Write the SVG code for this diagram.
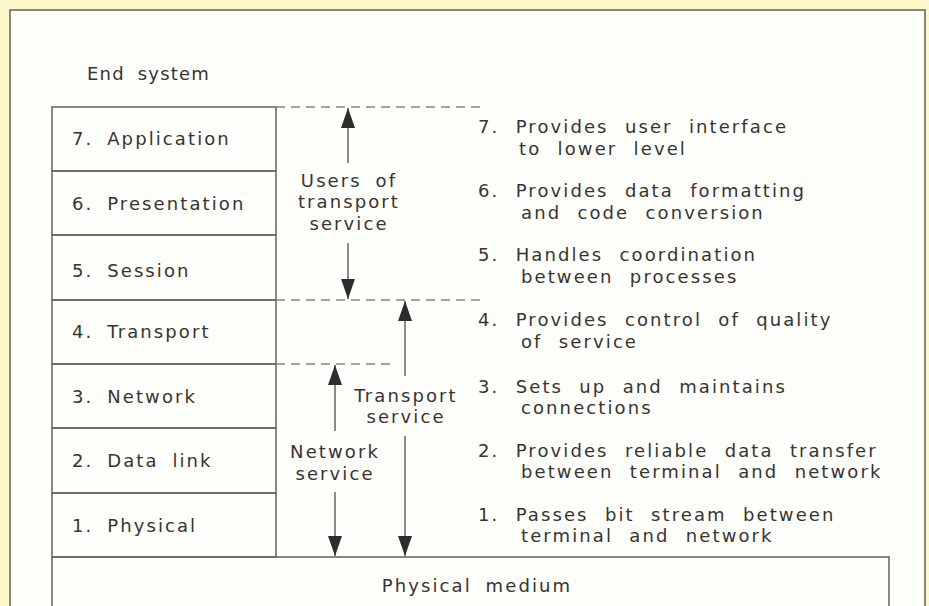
<svg xmlns="http://www.w3.org/2000/svg" width="929" height="606" viewBox="0 0 929 606">
<defs>
<style>
.t{font-family:"DejaVu Sans","Liberation Sans",Arial,sans-serif;font-size:18px;fill:#363432;letter-spacing:2.1px;word-spacing:6px}
.d{word-spacing:8.5px}
.c{text-anchor:middle}
.box{fill:none;stroke:#6e6862;stroke-width:1.6}
.dash{stroke:#8a8480;stroke-width:1.6;stroke-dasharray:9,6;fill:none}
.ln{stroke:#5e5854;stroke-width:1.4;fill:none}
</style>
<marker id="ah" viewBox="0 0 20 14" refX="20" refY="7" markerWidth="20" markerHeight="14" markerUnits="userSpaceOnUse" orient="auto">
<path d="M0,0 L20,7 L0,14 Z" fill="#2e2c2a"/>
</marker>
</defs>
<rect width="929" height="606" fill="#fbf8cc"/>
<rect x="10" y="10" width="915" height="610" fill="#fefefb" stroke="#6e6862" stroke-width="1.6"/>
<text class="t" x="87" y="80" style="letter-spacing:1.2px">End system</text>
<g id="layer7"><rect class="box" x="52" y="107" width="224" height="64"/><text class="t" x="72" y="145">7. Application</text></g>
<g id="layer6"><rect class="box" x="52" y="171" width="224" height="64"/><text class="t" x="72" y="210">6. Presentation</text></g>
<g id="layer5"><rect class="box" x="52" y="235" width="224" height="65"/><text class="t" x="72" y="277">5. Session</text></g>
<g id="layer4"><rect class="box" x="52" y="300" width="224" height="64"/><text class="t" x="72" y="338">4. Transport</text></g>
<g id="layer3"><rect class="box" x="52" y="364" width="224" height="64"/><text class="t" x="72" y="403">3. Network</text></g>
<g id="layer2"><rect class="box" x="52" y="428" width="224" height="65"/><text class="t" x="72" y="467">2. Data link</text></g>
<g id="layer1"><rect class="box" x="52" y="493" width="224" height="64"/><text class="t" x="72" y="532">1. Physical</text></g>
<g id="medium"><rect class="box" x="52" y="557" width="837" height="60"/><text class="t c" x="477" y="592">Physical medium</text></g>
<g id="connectors">
<path class="dash" d="M276,107 H482 M276,300 H482 M276,364 H390"/>
<path class="ln" d="M348,163 V108" marker-end="url(#ah)"/>
<path class="ln" d="M348,243 V299" marker-end="url(#ah)"/>
<path class="ln" d="M405,376 V301" marker-end="url(#ah)"/>
<path class="ln" d="M405,436 V556" marker-end="url(#ah)"/>
<path class="ln" d="M335,431 V365" marker-end="url(#ah)"/>
<path class="ln" d="M335,492 V556" marker-end="url(#ah)"/>
</g>
<g id="labels">
<text class="t c" x="349" y="187">Users of</text>
<text class="t c" x="349" y="208">transport</text>
<text class="t c" x="349" y="230">service</text>
<text class="t c" x="406" y="402">Transport</text>
<text class="t c" x="406" y="423">service</text>
<text class="t c" x="335" y="458">Network</text>
<text class="t c" x="335" y="480">service</text>
</g>
<g id="descriptions">
<text class="t d" x="478" y="133">7. Provides user interface</text>
<text class="t d" x="519" y="155">to lower level</text>
<text class="t d" x="478" y="197">6. Provides data formatting</text>
<text class="t d" x="521" y="219">and code conversion</text>
<text class="t d" x="478" y="261">5. Handles coordination</text>
<text class="t d" x="521" y="283">between processes</text>
<text class="t d" x="478" y="326">4. Provides control of quality</text>
<text class="t d" x="521" y="348">of service</text>
<text class="t d" x="478" y="393">3. Sets up and maintains</text>
<text class="t d" x="521" y="414">connections</text>
<text class="t d" x="478" y="457">2. Provides reliable data transfer</text>
<text class="t d" x="521" y="478">between terminal and network</text>
<text class="t d" x="478" y="521">1. Passes bit stream between</text>
<text class="t d" x="521" y="542">terminal and network</text>
</g>
</svg>
